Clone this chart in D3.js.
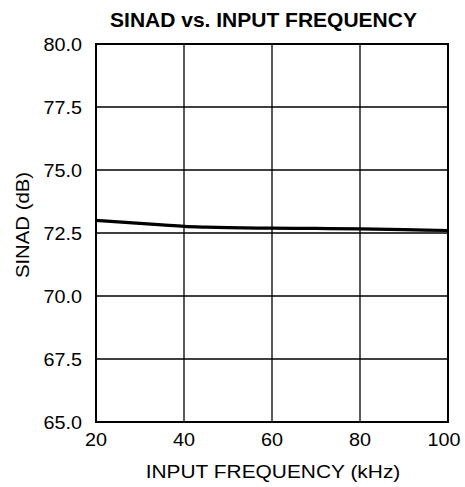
<!DOCTYPE html>
<html><head><meta charset="utf-8">
<script src="https://cdn.jsdelivr.net/npm/d3@7"></script>
<style>html,body{margin:0;padding:0;background:#fff;}svg{display:block;}</style>
</head><body>
<svg id="c" width="465" height="487"></svg>
<script>
const title = "SINAD vs. INPUT FREQUENCY";
const xLabel = "INPUT FREQUENCY (kHz)";
const yLabel = "SINAD (dB)";
const xTicks = [20, 40, 60, 80, 100];
const xTickLabels = ["20", "40", "60", "80", "100"];
const yTicks = [65, 67.5, 70, 72.5, 75, 77.5, 80];
const yTickLabels = ["65.0", "67.5", "70.0", "72.5", "75.0", "77.5", "80.0"];
const freq = [20, 25, 30, 35, 40, 45, 50, 60, 70, 80, 90, 100];
const sinad = [73.0, 72.94, 72.88, 72.82, 72.76, 72.73, 72.71, 72.69, 72.68, 72.66, 72.63, 72.60];

const svg = d3.select("#c");
const L = 96, R = 448, T = 44, B = 422;
const x = d3.scaleLinear().domain([20, 100]).range([L, R]);
const y = d3.scaleLinear().domain([65, 80]).range([B, T]);
const font = "'Liberation Sans', Arial, sans-serif";

function txt(xp, yp, s, size, anchor, weight, rot, sx) {
  return svg.append("text")
    .attr("transform", `translate(${xp},${yp})` + (rot ? ` rotate(${rot})` : "") + ` scale(${sx || 1.1},1)`)
    .attr("text-anchor", anchor)
    .attr("font-family", font)
    .attr("font-size", size)
    .attr("font-weight", weight || "normal")
    .attr("fill", "#000")
    .text(s);
}

// grid
svg.append("g").selectAll("line.v").data(xTicks.slice(1, -1)).join("line")
  .attr("x1", d => x(d)).attr("x2", d => x(d)).attr("y1", T).attr("y2", B)
  .attr("stroke", "#000").attr("stroke-width", 1.3);
svg.append("g").selectAll("line.h").data(yTicks.slice(1, -1)).join("line")
  .attr("x1", L).attr("x2", R).attr("y1", d => y(d)).attr("y2", d => y(d))
  .attr("stroke", "#000").attr("stroke-width", 1.3);

// frame
svg.append("rect").attr("x", L).attr("y", T).attr("width", R - L).attr("height", B - T)
  .attr("fill", "none").attr("stroke", "#000").attr("stroke-width", 2);

// data
const line = d3.line().x((d, i) => x(freq[i])).y(d => y(d)).curve(d3.curveMonotoneX);
svg.append("path").datum(sinad).attr("d", line)
  .attr("fill", "none").attr("stroke", "#000").attr("stroke-width", 3.2);

// tick labels
xTicks.forEach((t, i) => {
  const dx = i === xTicks.length - 1 ? -4 : 0;
  txt(x(t) + dx, 446, xTickLabels[i], 18, "middle");
});
yTicks.forEach((t, i) => {
  txt(82, y(t) + 6.5, yTickLabels[i], 18, "end");
});

// titles
txt(263.5, 26.5, title, 21, "middle", "bold", 0, 1);
txt(273, 478, xLabel, 19, "middle");
txt(29, 225, yLabel, 18.5, "middle", "normal", -90);
</script>
</body></html>
